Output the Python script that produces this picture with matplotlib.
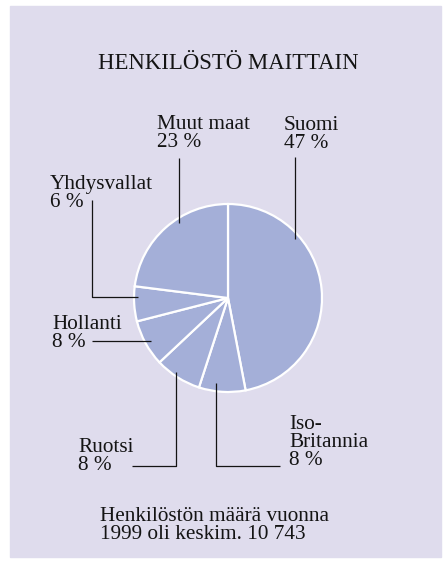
import matplotlib.pyplot as plt
from matplotlib.patches import Rectangle

# henkilöstö maittain 1999, %
maat = ['Suomi', 'Iso-\nBritannia', 'Ruotsi', 'Hollanti', 'Yhdysvallat', 'Muut maat']
osuudet = [47, 8, 8, 8, 6, 23]

otsikko = 'HENKILÖSTÖ MAITTAIN'
alateksti = 'Henkilöstön määrä vuonna\n1999 oli keskim. 10 743'

# tekstien paikat (vasen reuna, yläreuna) kuvapikseleinä
paikat = [(284, 116), (289, 415), (78, 438), (52, 315), (50, 175), (157, 115)]
# viivat: x- ja y-pisteet
viivat = [
    ([295, 295], [157, 239]),
    ([216, 216, 280], [383, 466, 466]),
    ([176, 176, 132], [372, 466, 466]),
    ([92, 151], [341, 341]),
    ([92, 92, 138], [200, 297, 297]),
    ([179, 179], [158, 223]),
]

tausta = '#dfdced'
sininen = '#a4afd8'
teksti = '#141414'
fontti = ['Liberation Serif', 'DejaVu Serif']
koko = 15.3

fig = plt.figure(figsize=(4.45, 5.67), dpi=100)
ax = fig.add_axes([0, 0, 1, 1])

ax.add_patch(Rectangle((10, 6), 431, 551, color=tausta, zorder=0))

# y-akseli käännetty -> counterclock=True piirtää ruudulla myötäpäivään
ax.pie(osuudet, center=(228, 298), radius=94, startangle=-90, counterclock=True,
       colors=[sininen] * len(osuudet),
       wedgeprops=dict(edgecolor='white', linewidth=1.6), frame=True)

for nimi, osuus, (x, y), (vx, vy) in zip(maat, osuudet, paikat, viivat):
    ax.text(x, y, f'{nimi}\n{osuus} %', ha='left', va='top', fontsize=koko,
            family=fontti, color=teksti, linespacing=0.93)
    ax.plot(vx, vy, color=teksti, lw=0.9, solid_capstyle='butt')

ax.text(228, 53, otsikko, ha='center', va='top', fontsize=16.4, family=fontti, color=teksti)
ax.text(100, 507, alateksti, ha='left', va='top', fontsize=koko, family=fontti,
        color=teksti, linespacing=0.93)

ax.set_xlim(0, 445)
ax.set_ylim(567, 0)
ax.set_aspect('auto')
ax.axis('off')

fig.savefig('out.png', dpi=100, facecolor='white')
